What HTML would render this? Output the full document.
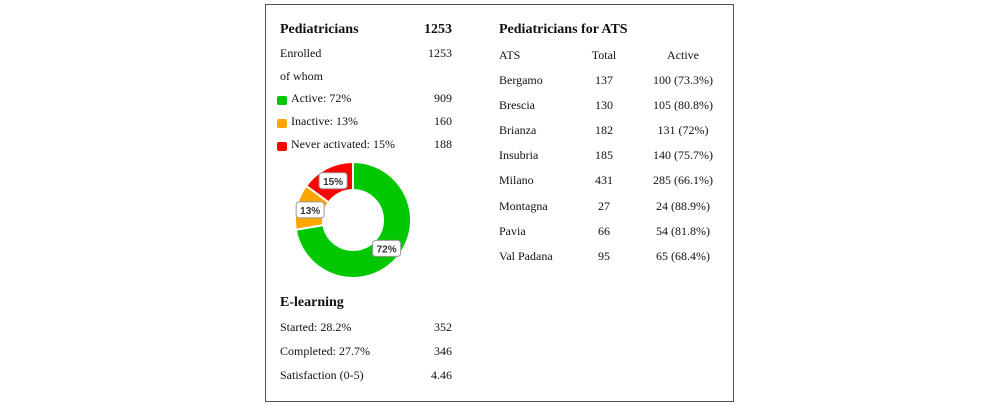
<!DOCTYPE html>
<html><head><meta charset="utf-8"><style>
body{margin:0;width:1000px;height:406px;background:#fff;position:relative;overflow:hidden;font-family:"Liberation Serif",serif;font-size:12px;color:#111}
.t{position:absolute;white-space:nowrap;line-height:14px}
.b{font-weight:bold;font-size:14px}
.r{text-align:right}
.c{text-align:center}
.sw{position:absolute;width:10px;height:9px;border-radius:2px}
</style></head><body>
<div style="position:absolute;left:265px;top:4px;width:467px;height:396px;border:1px solid #4a5568;"></div>

<div class="t b" style="left:280px;top:23px">Pediatricians</div>
<div class="t b r" style="left:400px;width:52px;top:23px">1253</div>
<div class="t" style="left:280px;top:46px">Enrolled</div>
<div class="t r" style="left:400px;width:52px;top:46px">1253</div>
<div class="t" style="left:280px;top:69px">of whom</div>

<div class="sw" style="left:277px;top:96px;background:#00c800"></div>
<div class="t" style="left:291px;top:91px">Active: 72%</div>
<div class="t r" style="left:400px;width:52px;top:91px">909</div>
<div class="sw" style="left:277px;top:119px;background:#ffa500"></div>
<div class="t" style="left:291px;top:114px">Inactive: 13%</div>
<div class="t r" style="left:400px;width:52px;top:114px">160</div>
<div class="sw" style="left:277px;top:142px;background:#f00"></div>
<div class="t" style="left:291px;top:137px">Never activated: 15%</div>
<div class="t r" style="left:400px;width:52px;top:137px">188</div>

<svg id="donut" style="position:absolute;left:0;top:0" width="1000" height="406"></svg>

<div class="t b" style="left:280px;top:296px">E-learning</div>
<div class="t" style="left:280px;top:320px">Started: 28.2%</div>
<div class="t r" style="left:400px;width:52px;top:320px">352</div>
<div class="t" style="left:280px;top:344px">Completed: 27.7%</div>
<div class="t r" style="left:400px;width:52px;top:344px">346</div>
<div class="t" style="left:280px;top:368px">Satisfaction (0-5)</div>
<div class="t r" style="left:400px;width:52px;top:368px">4.46</div>

<div class="t b" style="left:499px;top:23px">Pediatricians for ATS</div>
<div id="tbl"></div>

<script>
const categories=["Active","Inactive","Never activated"];
const values=[909,160,188];
const colors=["#00c800","#ffa500","#ff0000"];
const atsNames=["Bergamo","Brescia","Brianza","Insubria","Milano","Montagna","Pavia","Val Padana"];
const atsTotal=[137,130,182,185,431,27,66,95];
const atsActive=[100,105,131,140,285,24,54,65];
const atsPct=["73.3%","80.8%","72%","75.7%","66.1%","88.9%","81.8%","68.4%"];

const NS="http://www.w3.org/2000/svg";
const svg=document.getElementById('donut');
const cx=353,cy=220,R=58,r=30;
const sum=values.reduce((a,b)=>a+b,0);
function pt(f,rad){const a=f*2*Math.PI;return [cx+Math.sin(a)*rad,cy-Math.cos(a)*rad];}
let acc=0;
values.forEach((v,i)=>{
  const f0=acc/sum,f1=(acc+v)/sum;acc+=v;
  const large=(f1-f0)>0.5?1:0;
  const [x0,y0]=pt(f0,R),[x1,y1]=pt(f1,R),[x2,y2]=pt(f1,r),[x3,y3]=pt(f0,r);
  const p=document.createElementNS(NS,'path');
  p.setAttribute('d',`M${x0},${y0}A${R},${R} 0 ${large} 1 ${x1},${y1}L${x2},${y2}A${r},${r} 0 ${large} 0 ${x3},${y3}Z`);
  p.setAttribute('fill',colors[i]);p.setAttribute('stroke','#fff');p.setAttribute('stroke-width','2');
  
  
  svg.appendChild(p);
});
acc=0;
values.forEach((v,i)=>{
  const fm=(acc+v/2)/sum;acc+=v;
  const [lx,ly]=pt(fm,44);
  const g=document.createElementNS(NS,'g');
  
  
  const rc=document.createElementNS(NS,'rect');
  rc.setAttribute('x',lx-14);rc.setAttribute('y',ly-8);rc.setAttribute('width',28);rc.setAttribute('height',16);
  rc.setAttribute('rx',3);rc.setAttribute('fill','#fff');rc.setAttribute('stroke','#999');rc.setAttribute('stroke-width','1');
  const t=document.createElementNS(NS,'text');
  t.setAttribute('x',lx);t.setAttribute('y',ly+4);t.setAttribute('text-anchor','middle');
  t.setAttribute('font-family','Liberation Sans, sans-serif');t.setAttribute('font-size','10');t.setAttribute('font-weight','bold');t.setAttribute('fill','#333');
  t.textContent=Math.round(v/sum*100)+'%';
  g.appendChild(rc);g.appendChild(t);svg.appendChild(g);
});

const tbl=document.getElementById('tbl');
function cell(txt,left,top,w,cls,name){
  const d=document.createElement('div');
  d.className='t '+cls;d.style.left=left+'px';d.style.top=top+'px';if(w)d.style.width=w+'px';
  d.textContent=txt;
  
  
  tbl.appendChild(d);
}
cell('ATS',499,48,0,'','header-ats');
cell('Total',574,48,60,'c','header-total');
cell('Active',643,48,80,'c','header-active');
atsNames.forEach((n,i)=>{
  const y=73+i*25.1;
  const k=n.toLowerCase().replace(/ /g,'-');
  cell(n,499,y,0,'','ats-name-'+k);
  cell(String(atsTotal[i]),574,y,60,'c','ats-total-'+k);
  cell(atsActive[i]+' ('+atsPct[i]+')',643,y,80,'c','ats-active-'+k);
});
</script>
</body></html>
